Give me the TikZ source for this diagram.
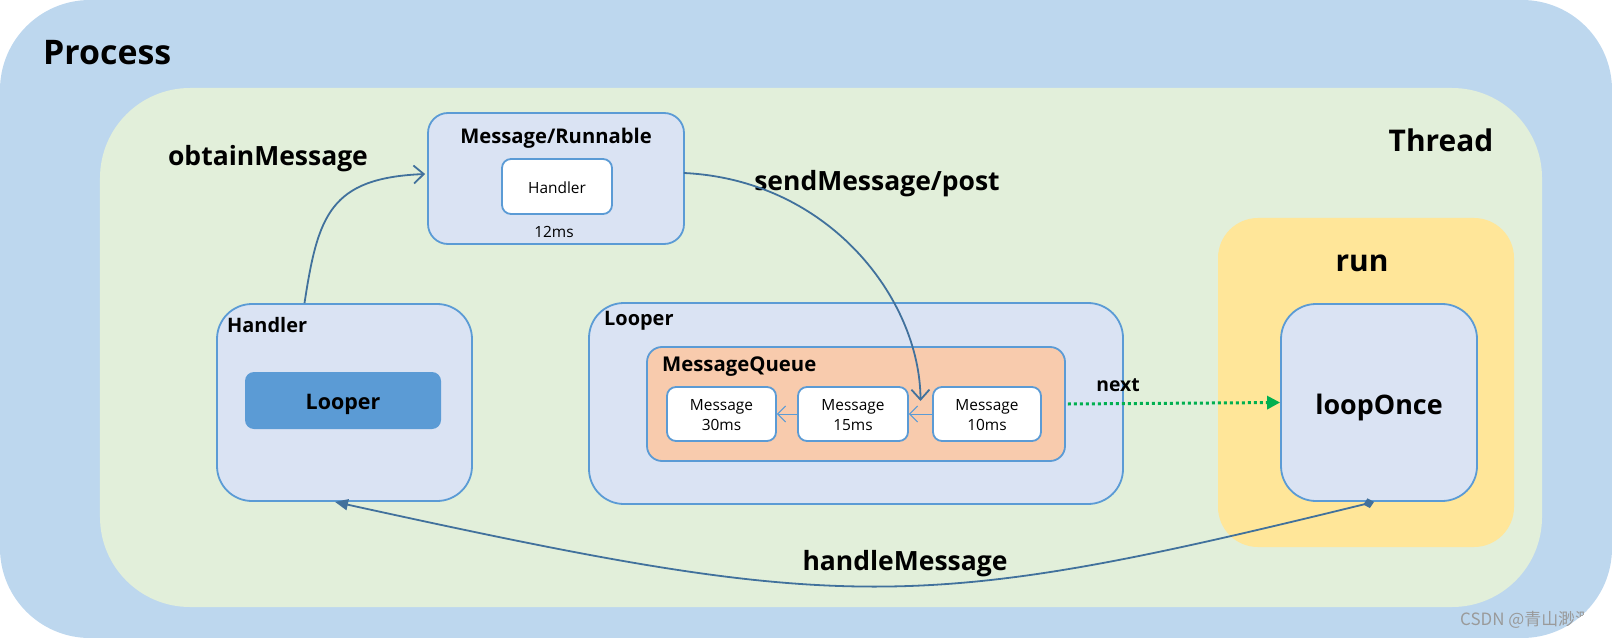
\documentclass[tikz,border=0pt]{standalone}
\usepackage{fontspec}
\setmainfont{Open Sans}
\newfontfamily\cjkfont{Noto Sans CJK SC}
\usetikzlibrary{arrows.meta,calc}
\definecolor{procbg}{HTML}{BDD7EE}
\definecolor{threadbg}{HTML}{E2EFDA}
\definecolor{boxf}{HTML}{DAE3F3}
\definecolor{bdr}{HTML}{5B9BD5}
\definecolor{mqf}{HTML}{F8CBAD}
\definecolor{runf}{HTML}{FFE699}
\definecolor{arr}{HTML}{41719C}
\definecolor{nextc}{HTML}{00B050}
\definecolor{wmark}{HTML}{9A9A9A}
\tikzset{
  area/.style={rectangle, inner sep=0pt, draw=none},
  bluebox/.style={rectangle, inner sep=0pt, draw=bdr, line width=1.8bp, fill=boxf},
  whitebox/.style={rectangle, inner sep=0pt, draw=bdr, line width=1.8bp, fill=white, rounded corners=9bp},
  bigtxt/.style={font=\bfseries\fontsize{#1}{#1}\selectfont, inner sep=0pt},
  smalltxt/.style={font=\fontsize{15.5}{20}\selectfont, inner sep=0pt, align=center},
  flowarr/.style={draw=arr, line width=1.8bp},
  qarr/.style={draw=bdr, line width=1bp, -{Straight Barb[length=8bp,width=16bp]}},
}
\begin{document}
\begin{tikzpicture}[x=1bp,y=-1bp]
\useasboundingbox (0,0) rectangle (1612,638);
% process
\node[area, fill=procbg, rounded corners=90bp, minimum width=1612bp, minimum height=638bp] (process) at (806,319) {};
\node[bigtxt=34, anchor=west] (processlbl) at (43,53) {Process};
% thread
\node[area, fill=threadbg, rounded corners=90bp, minimum width=1442bp, minimum height=519bp] (thread) at (821,347.5) {};
\node[bigtxt=30] (threadlbl) at (1441,140) {Thread};
% watermark
\begin{scope}
\clip[rounded corners=90bp] (0,0) rectangle (1612,638);
\node[font=\cjkfont\fontsize{17}{17}\selectfont, text=wmark, anchor=west, inner sep=0pt] (wm) at (1460,620) {CSDN @青山渺渺};
\end{scope}
% message/runnable
\node[bluebox, rounded corners=20bp, minimum width=256bp, minimum height=131bp] (msgrun) at (556,178.5) {};
\node[bigtxt=20.3] (msgrunlbl) at (556,138) {Message/Runnable};
\node[whitebox, minimum width=110bp, minimum height=55bp] (hinner) at (557,186.5) {};
\node[smalltxt] (hinnerlbl) at (557,187.5) {Handler};
\node[smalltxt] (ms12) at (554,232) {12ms};
\node[bigtxt=26.6] (obtainlbl) at (268,159) {obtainMessage};
\node[bigtxt=26.6] (sendlbl) at (877,184) {sendMessage/post};
% handler
\node[bluebox, rounded corners=35bp, minimum width=255bp, minimum height=197bp] (handler) at (344.5,402.5) {};
\node[bigtxt=20, anchor=west] (handlerlbl) at (227,325.5) {Handler};
\node[area, fill=bdr, rounded corners=9bp, minimum width=196bp, minimum height=57bp] (looperin) at (343,400.5) {};
\node[bigtxt=21.5] (looperinlbl) at (343,404) {Looper};
% looper
\node[bluebox, rounded corners=35bp, minimum width=534bp, minimum height=201bp] (looper) at (856,403.5) {};
\node[bigtxt=20, anchor=west] (looperlbl) at (604,320.5) {Looper};
\node[rectangle, inner sep=0pt, draw=bdr, line width=1.8bp, fill=mqf, rounded corners=15bp, minimum width=418bp, minimum height=114bp] (mq) at (856,404) {};
\node[bigtxt=20.4, anchor=west] (mqlbl) at (662,366.5) {MessageQueue};
\node[whitebox, minimum width=109bp, minimum height=54bp] (m30) at (721.5,414) {};
\node[smalltxt] (m30lbl) at (721.5,415) {Message\\30ms};
\node[whitebox, minimum width=110bp, minimum height=54bp] (m15) at (853,414) {};
\node[smalltxt] (m15lbl) at (853,415) {Message\\15ms};
\node[whitebox, minimum width=108bp, minimum height=54bp] (m10) at (987,414) {};
\node[smalltxt] (m10lbl) at (987,415) {Message\\10ms};
\draw[qarr] (m15.west) -- (m30.east);
\draw[qarr] (m10.west) -- (m15.east);
% run
\node[area, fill=runf, rounded corners=40bp, minimum width=296bp, minimum height=329bp] (run) at (1366,382.5) {};
\node[bigtxt=30] (runlbl) at (1362,263) {run};
\node[bluebox, rounded corners=35bp, minimum width=196bp, minimum height=197bp] (loop) at (1379,402.5) {};
\node[bigtxt=27] (looplbl) at (1379,408) {loopOnce};
% connectors
\coordinate (obtstart) at ($(handler.north)+(-40,0)$);
\coordinate (obtend) at ($(msgrun.west)+(-2,-4.5)$);
\draw[flowarr, -{Straight Barb[length=10bp,width=18bp,line width=1.8bp]}] (obtstart) .. controls (318,215) and (330,178) .. (obtend);
\coordinate (sendstart) at ($(msgrun.east)+(-1,-5.5)$);
\coordinate (sendend) at ($(m15.east)!0.5!(m10.west)+(0,-13)$);
\draw[flowarr, -{Straight Barb[length=10bp,width=18bp,line width=1.8bp]}] (sendstart) .. controls (830,180) and (920,300) .. (sendend);
\coordinate (nextstart) at ($(mq.east)+(2,0)$);
\draw[draw=nextc, line width=3bp, dash pattern=on 3bp off 3bp, -{Triangle[length=13bp,width=13bp]}] (nextstart) -- (loop.west);
\node[bigtxt=19.4] (nextlbl) at (1118,385) {next};
\coordinate (hmstart) at ($(loop.south)+(-5,0)$);
\coordinate (hmend) at ($(handler.south)+(-9.5,0)$);
\draw[flowarr, {Diamond[length=11bp,width=10bp]}-{Triangle[length=13bp,width=11bp]}] (hmstart) .. controls (916,614) and (846,614) .. (hmend);
\node[bigtxt=26.6] (hmlbl) at (905,564) {handleMessage};
\end{tikzpicture}
\end{document}
